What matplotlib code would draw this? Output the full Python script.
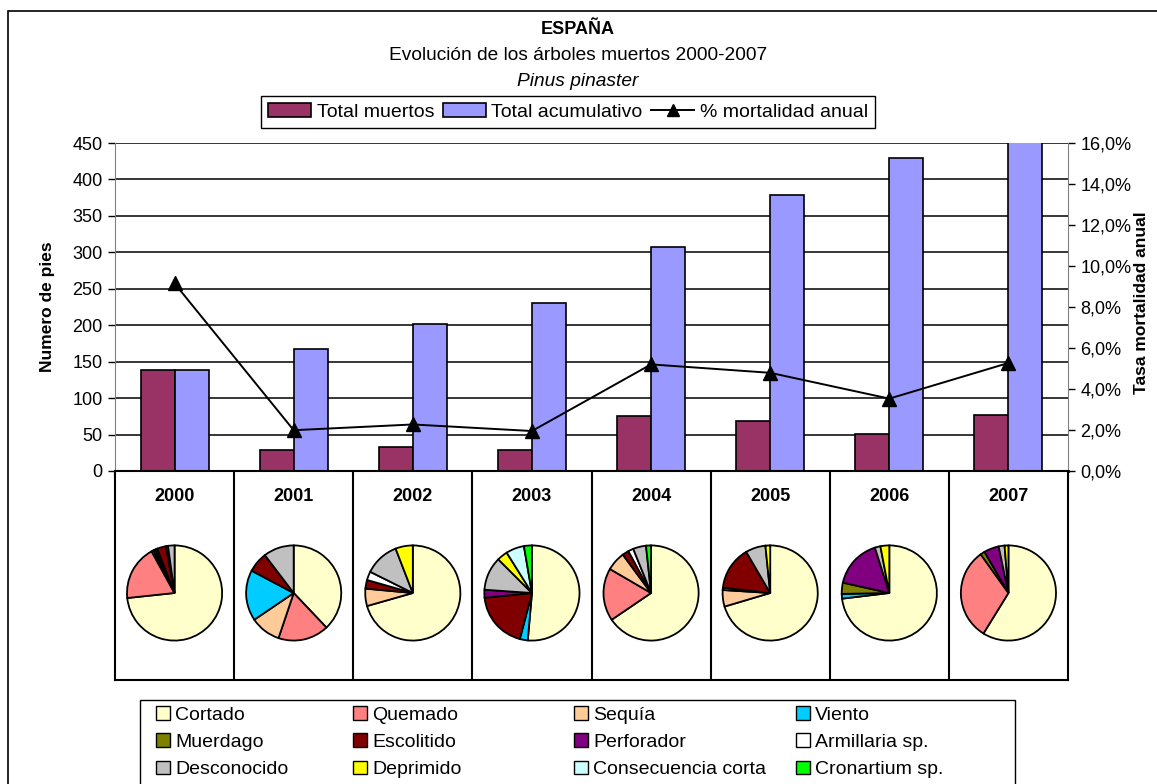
import matplotlib
matplotlib.use('Agg')
import matplotlib.pyplot as plt
from matplotlib.patches import Rectangle, Patch
from matplotlib.lines import Line2D
from matplotlib.ticker import FuncFormatter, MultipleLocator
import numpy as np

plt.rcParams['font.family'] = ['Liberation Sans', 'DejaVu Sans']

# ---------------- data ----------------
years = ['2000', '2001', '2002', '2003', '2004', '2005', '2006', '2007']
total_muertos = [138, 29, 33, 29, 76, 69, 51, 77]
total_acumulativo = [138, 168, 202, 231, 307, 378, 429, 506]
mortalidad_pct = [9.15, 1.99, 2.27, 1.95, 5.20, 4.79, 3.53, 5.27]

causas = ['Cortado', 'Quemado', 'Sequía', 'Viento', 'Muerdago', 'Escolitido',
          'Perforador', 'Armillaria sp.', 'Desconocido', 'Deprimido',
          'Consecuencia corta', 'Cronartium sp.']
causa_colors = ['#FFFFCC', '#FF8080', '#FFCC99', '#00CCFF', '#808000', '#800000',
                '#800080', '#FFFFFF', '#C0C0C0', '#FFFF00', '#CCFFFF', '#00FF00']

# pie shares per year, order as in `causas`
pie_2000 = [73.1, 18.6, 0.7, 0.7, 0.7, 3.0, 0.0, 0.7, 2.2, 0.0, 0.0, 0.0]
pie_2001 = [11, 5, 3, 5, 0, 2, 0, 0, 3, 0, 0, 0]
pie_2002 = [24, 0, 2, 0, 0, 1, 0, 1, 4, 2, 0, 0]
pie_2003 = [51.4, 0.0, 0.0, 2.7, 0.0, 19.3, 2.7, 0.0, 11.4, 3.6, 6.2, 2.7]
pie_2004 = [65.5, 17.9, 6.5, 0.0, 0.0, 2.2, 0.0, 1.8, 4.4, 0.0, 0.0, 1.7]
pie_2005 = [70.4, 0.0, 5.6, 0.8, 0.0, 14.8, 0.0, 0.0, 6.8, 1.6, 0.0, 0.0]
pie_2006 = [73.1, 0.0, 0.0, 1.6, 3.8, 0.0, 16.6, 0.0, 1.9, 3.0, 0.0, 0.0]
pie_2007 = [58.8, 31.3, 0.0, 0.0, 1.5, 0.0, 5.1, 0.0, 2.0, 1.3, 0.0, 0.0]
pies = [pie_2000, pie_2001, pie_2002, pie_2003, pie_2004, pie_2005, pie_2006, pie_2007]

# ---------------- layout helpers ----------------
W, H = 1157, 784
fig = plt.figure(figsize=(W / 100, H / 100), dpi=100)
fig.patch.set_facecolor('white')


def fx(px):
    return px / W


def fy(py):
    return 1 - py / H


FS = 13
FS_L = 14

# outer chart border
fig.patches.append(Rectangle((fx(8), fy(800)), fx(1200) - fx(8), fy(11) - fy(800),
                             transform=fig.transFigure, fill=False, edgecolor='black',
                             lw=1.2, clip_on=False))

# titles
fig.text(fx(578), fy(29), 'ESPAÑA', ha='center', va='center', fontsize=FS, fontweight='bold')
fig.text(fx(578), fy(56), 'Evolución de los árboles muertos 2000-2007', ha='center',
         va='center', fontsize=FS_L - 0.2)
fig.text(fx(578), fy(81), 'Pinus pinaster', ha='center', va='center', fontsize=FS_L - 0.2,
         style='italic')

# ---------------- main bar chart ----------------
L, R, T, B = 115, 1068, 143, 471
ax = fig.add_axes([fx(L), fy(B), fx(R) - fx(L), fy(T) - fy(B)])
x = np.arange(len(years))
bw = 1 / 3.5
ax.bar(x - bw / 2, total_muertos, bw, color='#993366', edgecolor='black', lw=1.2, zorder=3)
ax.bar(x + bw / 2, total_acumulativo, bw, color='#9999FF', edgecolor='black', lw=1.2,
       zorder=3)
ax.set_xlim(-0.5, len(years) - 0.5)
ax.set_ylim(0, 450)
ax.set_yticks(np.arange(0, 451, 50))
ax.yaxis.grid(True, color='black', lw=1.1)
ax.set_axisbelow(True)
ax.set_xticks(np.arange(-0.5, len(years), 1))
ax.set_xticklabels([])
ax.tick_params(axis='x', length=6, width=1.5, direction='out')
ax.tick_params(axis='y', length=5, width=1, labelsize=FS, pad=4)
for s in ['top', 'right']:
    ax.spines[s].set_visible(False)
ax.spines['left'].set_color('#808080')
ax.spines['bottom'].set_linewidth(2)
fig.text(fx(48), fy(307), 'Numero de pies', rotation=90, ha='center', va='center',
         fontsize=FS - 0.5, fontweight='bold')

ax2 = ax.twinx()
ax2.plot(x, mortalidad_pct, color='black', marker='^', ms=10, lw=1.4, zorder=5)
ax2.set_ylim(0, 16)
ax2.yaxis.set_major_locator(MultipleLocator(2))
ax2.yaxis.set_major_formatter(FuncFormatter(lambda v, p: f'{v:.1f}%'.replace('.', ',')))
ax2.tick_params(axis='y', length=5, width=1, labelsize=FS, pad=4)
for s in ['top', 'left', 'bottom']:
    ax2.spines[s].set_visible(False)
ax2.spines['right'].set_color('#808080')
fig.text(fx(1141), fy(303), 'Tasa mortalidad anual', rotation=90, ha='center', va='center',
         fontsize=FS - 0.5, fontweight='bold')

# top legend
handles_top = [Patch(facecolor='#993366', edgecolor='black', lw=1.2),
               Patch(facecolor='#9999FF', edgecolor='black', lw=1.2),
               Line2D([], [], color='black', marker='^', ms=9, lw=1.4)]
leg = fig.legend(handles_top, ['Total muertos', 'Total acumulativo', '% mortalidad anual'],
                 loc='center', bbox_to_anchor=(fx(568), fy(112)), ncol=3, fontsize=FS_L,
                 frameon=True, fancybox=False, edgecolor='black', framealpha=1,
                 handlelength=2.2, handletextpad=0.3, columnspacing=0.45,
                 borderpad=0.35, borderaxespad=0)
leg.get_frame().set_linewidth(1.0)

# ---------------- pie panel ----------------
PB = 680
pax = fig.add_axes([fx(L), fy(PB), fx(R) - fx(L), fy(B) - fy(PB)])
pax.set_xlim(0, len(years))
pax.set_ylim(0, 1)
pax.set_xticks([])
pax.set_yticks([])
for s in pax.spines.values():
    s.set_linewidth(1.5)
    s.set_color('black')
for i in range(1, len(years)):
    pax.axvline(i, color='black', lw=1.5)
for i, yr in enumerate(years):
    pax.text(i + 0.5, (PB - 497) / (PB - B), yr, ha='center', va='center', fontsize=13,
             fontweight='bold')

cw = (R - L) / len(years)
pie_r = 49
pie_cy = 593
for i, vals in enumerate(pies):
    cx = L + cw * (i + 0.5)
    pa = fig.add_axes([fx(cx - pie_r), fy(pie_cy + pie_r), 2 * pie_r / W, 2 * pie_r / H])
    v = np.array(vals, dtype=float)
    mask = v > 0
    pa.pie(v[mask], colors=[c for c, m in zip(causa_colors, mask) if m], startangle=90,
           counterclock=False, radius=1,
           wedgeprops=dict(edgecolor='black', linewidth=1.3))
    pa.set_xlim(-1.03, 1.03)
    pa.set_ylim(-1.03, 1.03)
    pa.set_aspect('auto')
    pa.axis('off')

# ---------------- bottom legend ----------------
fig.patches.append(Rectangle((fx(140), fy(800)), fx(1015) - fx(140), fy(700) - fy(800),
                             transform=fig.transFigure, fill=False, edgecolor='black',
                             lw=1.0, clip_on=False))
col_x = [152, 349, 570, 792]
for c in range(4):
    idx = [c, c + 4, c + 8]
    hs = [Patch(facecolor=causa_colors[k], edgecolor='black', lw=1.0) for k in idx]
    fig.legend(hs, [causas[k] for k in idx], loc='upper left',
               bbox_to_anchor=(fx(col_x[c]), fy(702)), frameon=False, fontsize=FS_L,
               handlelength=0.7, handleheight=0.7, handletextpad=0.3,
               labelspacing=0.5, borderpad=0.2, borderaxespad=0)

fig.savefig('out.png', dpi=100, facecolor='white')
